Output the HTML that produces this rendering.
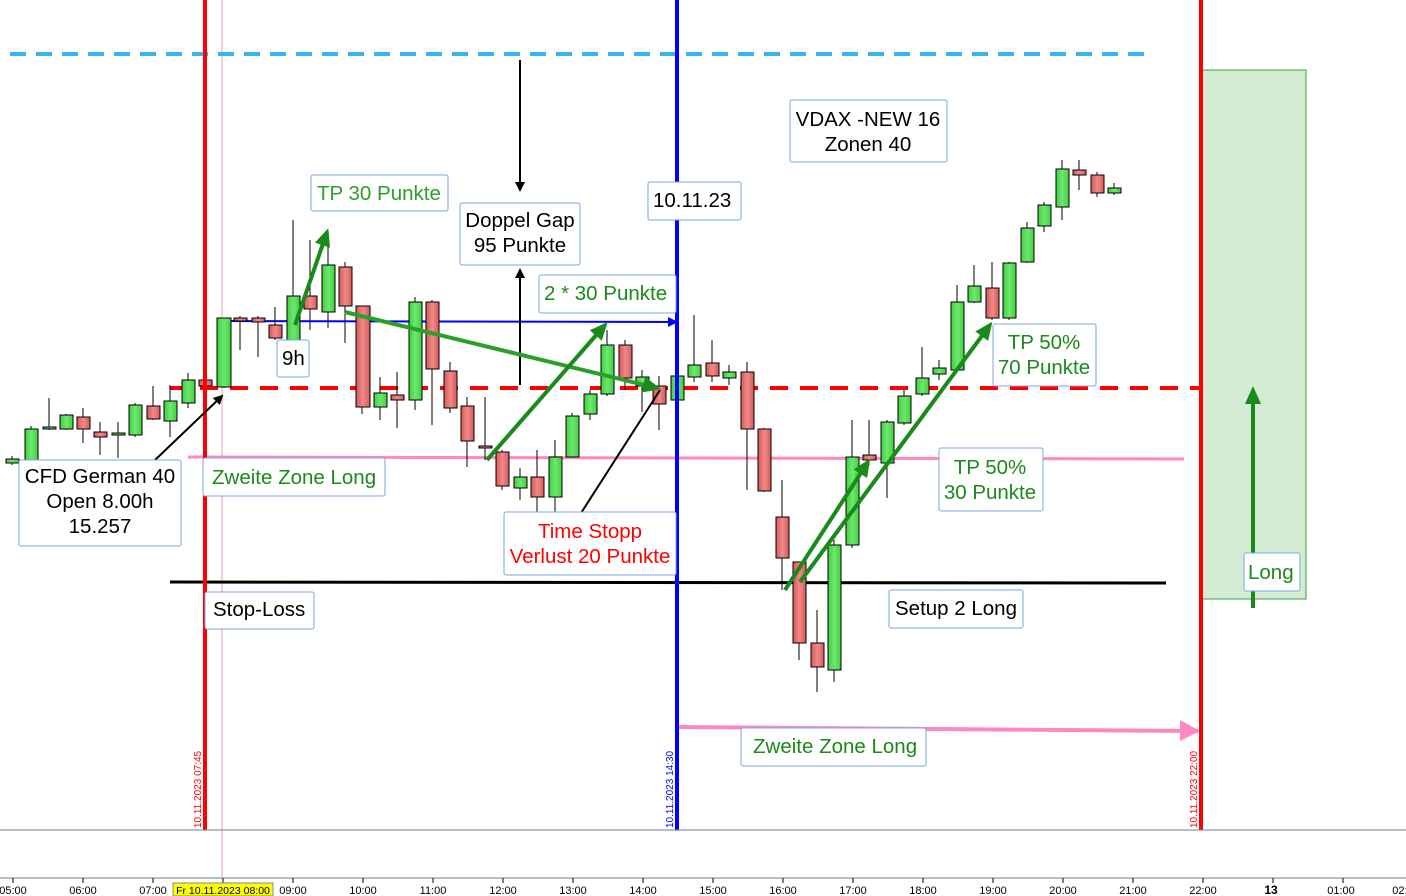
<!DOCTYPE html>
<html><head><meta charset="utf-8"><style>
body{margin:0;background:#fff}
svg{display:block;font-family:"Liberation Sans",sans-serif}
.lb{fill:#fff;stroke:#7aa7e8;stroke-width:1}
</style></head><body>
<svg width="1406" height="896" viewBox="0 0 1406 896">
<defs>
<linearGradient id="g" x1="0" x2="1"><stop offset="0" stop-color="#3fd03f"/><stop offset="0.5" stop-color="#6ee86e"/><stop offset="1" stop-color="#3fcf3f"/></linearGradient>
<linearGradient id="r" x1="0" x2="1"><stop offset="0" stop-color="#d85858"/><stop offset="0.5" stop-color="#f08a8a"/><stop offset="1" stop-color="#d85858"/></linearGradient>
<marker id="ab" markerWidth="10" markerHeight="10" refX="8" refY="5" orient="auto" markerUnits="userSpaceOnUse"><path d="M0,0 L10,5 L0,10z" fill="#000"/></marker>
<marker id="ag" markerWidth="18" markerHeight="16" refX="14" refY="8" orient="auto" markerUnits="userSpaceOnUse"><path d="M0,0 L18,8 L0,16z" fill="#1a8a1a"/></marker>
<marker id="abl" markerWidth="10" markerHeight="10" refX="8" refY="5" orient="auto" markerUnits="userSpaceOnUse"><path d="M0,0 L10,5 L0,10z" fill="#0000ff"/></marker>
</defs>
<rect x="1202" y="70" width="104" height="529" fill="#d4ecd4" stroke="#3aa03a"/>
<line x1="222" y1="0" x2="222" y2="878" stroke="#f0a0a0" stroke-width="1"/>
<line x1="10" y1="54" x2="1148" y2="54" stroke="#3ab4f0" stroke-width="4" stroke-dasharray="16,10"/>
<line x1="170" y1="388" x2="1200" y2="388" stroke="#f00" stroke-width="4" stroke-dasharray="18,12"/>
<line x1="188" y1="457" x2="1184" y2="459" stroke="#ff88c0" stroke-width="3"/>
<line x1="170" y1="582" x2="1166" y2="583" stroke="#000" stroke-width="3"/>
<line x1="222" y1="321" x2="676" y2="322" stroke="#0000ff" stroke-width="2" marker-end="url(#abl)"/>
<line x1="678" y1="727" x2="1198" y2="731" stroke="#ff88c0" stroke-width="4"/>
<path d="M1180,720 L1200,731 L1180,741z" fill="#ff88c0"/>
<g id="c" stroke="#000" stroke-width="1">
<line x1="12" y1="456" x2="12" y2="465"/><rect x="6" y="459" width="13" height="4" fill="url(#g)"/>
<line x1="31" y1="426" x2="31" y2="462"/><rect x="25" y="429" width="13" height="32" fill="url(#g)"/>
<line x1="49" y1="398" x2="49" y2="430"/><rect x="43" y="427" width="13" height="2" fill="url(#g)"/>
<line x1="66" y1="414" x2="66" y2="430"/><rect x="60" y="415" width="13" height="14" fill="url(#g)"/>
<line x1="83" y1="408" x2="83" y2="443"/><rect x="77" y="417" width="13" height="12" fill="url(#r)"/>
<line x1="100" y1="422" x2="100" y2="455"/><rect x="94" y="432" width="13" height="5" fill="url(#r)"/>
<line x1="118" y1="422" x2="118" y2="458"/><rect x="112" y="433" width="13" height="2" fill="url(#g)"/>
<line x1="135" y1="403" x2="135" y2="437"/><rect x="129" y="405" width="13" height="30" fill="url(#g)"/>
<line x1="153" y1="386" x2="153" y2="420"/><rect x="147" y="406" width="13" height="13" fill="url(#r)"/>
<line x1="170" y1="385" x2="170" y2="437"/><rect x="164" y="401" width="13" height="20" fill="url(#g)"/>
<line x1="188" y1="373" x2="188" y2="408"/><rect x="182" y="380" width="13" height="23" fill="url(#g)"/>
<line x1="205" y1="378" x2="205" y2="388"/><rect x="199" y="380" width="13" height="6" fill="url(#r)"/>
<line x1="224" y1="318" x2="224" y2="388"/><rect x="217" y="318" width="14" height="69" fill="url(#g)"/>
<line x1="240" y1="316" x2="240" y2="350"/><rect x="234" y="318" width="13" height="3" fill="url(#r)"/>
<line x1="258" y1="316" x2="258" y2="357"/><rect x="252" y="318" width="13" height="4" fill="url(#r)"/>
<line x1="275" y1="307" x2="275" y2="340"/><rect x="269" y="325" width="13" height="13" fill="url(#r)"/>
<line x1="293" y1="220" x2="293" y2="350"/><rect x="287" y="296" width="13" height="44" fill="url(#g)"/>
<line x1="310" y1="240" x2="310" y2="330"/><rect x="304" y="296" width="13" height="13" fill="url(#r)"/>
<line x1="328" y1="230" x2="328" y2="328"/><rect x="322" y="265" width="13" height="47" fill="url(#g)"/>
<line x1="345" y1="262" x2="345" y2="343"/><rect x="339" y="267" width="13" height="39" fill="url(#r)"/>
<line x1="362" y1="306" x2="362" y2="414"/><rect x="356" y="306" width="14" height="101" fill="url(#r)"/>
<line x1="380" y1="377" x2="380" y2="420"/><rect x="374" y="393" width="13" height="14" fill="url(#g)"/>
<line x1="397" y1="372" x2="397" y2="428"/><rect x="391" y="395" width="13" height="5" fill="url(#r)"/>
<line x1="415" y1="297" x2="415" y2="410"/><rect x="409" y="302" width="13" height="98" fill="url(#g)"/>
<line x1="432" y1="300" x2="432" y2="425"/><rect x="426" y="302" width="13" height="67" fill="url(#r)"/>
<line x1="450" y1="362" x2="450" y2="413"/><rect x="444" y="371" width="13" height="37" fill="url(#r)"/>
<line x1="467" y1="397" x2="467" y2="467"/><rect x="461" y="406" width="13" height="35" fill="url(#r)"/>
<line x1="485" y1="397" x2="485" y2="460"/><rect x="479" y="446" width="13" height="2" fill="url(#r)"/>
<line x1="502" y1="450" x2="502" y2="490"/><rect x="496" y="452" width="13" height="34" fill="url(#r)"/>
<line x1="520" y1="468" x2="520" y2="500"/><rect x="514" y="477" width="13" height="11" fill="url(#g)"/>
<line x1="537" y1="450" x2="537" y2="520"/><rect x="531" y="477" width="13" height="20" fill="url(#r)"/>
<line x1="555" y1="440" x2="555" y2="520"/><rect x="549" y="457" width="13" height="40" fill="url(#g)"/>
<line x1="572" y1="413" x2="572" y2="450"/><rect x="566" y="416" width="13" height="41" fill="url(#g)"/>
<line x1="590" y1="390" x2="590" y2="420"/><rect x="584" y="394" width="13" height="20" fill="url(#g)"/>
<line x1="607" y1="330" x2="607" y2="396"/><rect x="601" y="345" width="13" height="49" fill="url(#g)"/>
<line x1="625" y1="340" x2="625" y2="390"/><rect x="619" y="345" width="13" height="33" fill="url(#r)"/>
<line x1="642" y1="370" x2="642" y2="412"/><rect x="636" y="377" width="13" height="9" fill="url(#g)"/>
<line x1="659" y1="376" x2="659" y2="430"/><rect x="653" y="386" width="13" height="18" fill="url(#r)"/>
<line x1="677" y1="355" x2="677" y2="400"/><rect x="671" y="376" width="13" height="24" fill="url(#g)"/>
<line x1="694" y1="315" x2="694" y2="382"/><rect x="688" y="365" width="13" height="12" fill="url(#g)"/>
<line x1="712" y1="340" x2="712" y2="382"/><rect x="706" y="363" width="13" height="13" fill="url(#r)"/>
<line x1="729" y1="365" x2="729" y2="385"/><rect x="723" y="372" width="13" height="6" fill="url(#g)"/>
<line x1="747" y1="362" x2="747" y2="490"/><rect x="741" y="372" width="13" height="57" fill="url(#r)"/>
<line x1="764" y1="428" x2="764" y2="492"/><rect x="758" y="429" width="13" height="62" fill="url(#r)"/>
<line x1="782" y1="480" x2="782" y2="590"/><rect x="776" y="517" width="13" height="41" fill="url(#r)"/>
<line x1="799" y1="580" x2="799" y2="660"/><rect x="793" y="562" width="13" height="81" fill="url(#r)"/>
<line x1="817" y1="610" x2="817" y2="692"/><rect x="811" y="643" width="13" height="24" fill="url(#r)"/>
<line x1="834" y1="540" x2="834" y2="682"/><rect x="828" y="545" width="13" height="125" fill="url(#g)"/>
<line x1="852" y1="420" x2="852" y2="548"/><rect x="846" y="457" width="13" height="88" fill="url(#g)"/>
<line x1="869" y1="420" x2="869" y2="465"/><rect x="863" y="455" width="13" height="5" fill="url(#r)"/>
<line x1="887" y1="420" x2="887" y2="498"/><rect x="881" y="422" width="13" height="41" fill="url(#g)"/>
<line x1="904" y1="390" x2="904" y2="425"/><rect x="898" y="396" width="13" height="27" fill="url(#g)"/>
<line x1="922" y1="347" x2="922" y2="396"/><rect x="916" y="378" width="13" height="16" fill="url(#g)"/>
<line x1="939" y1="360" x2="939" y2="380"/><rect x="933" y="368" width="13" height="6" fill="url(#g)"/>
<line x1="957" y1="285" x2="957" y2="372"/><rect x="951" y="302" width="13" height="68" fill="url(#g)"/>
<line x1="974" y1="265" x2="974" y2="303"/><rect x="968" y="286" width="13" height="16" fill="url(#g)"/>
<line x1="992" y1="262" x2="992" y2="320"/><rect x="986" y="288" width="13" height="30" fill="url(#r)"/>
<line x1="1009" y1="262" x2="1009" y2="320"/><rect x="1003" y="263" width="13" height="55" fill="url(#g)"/>
<line x1="1027" y1="222" x2="1027" y2="263"/><rect x="1021" y="228" width="13" height="34" fill="url(#g)"/>
<line x1="1044" y1="202" x2="1044" y2="232"/><rect x="1038" y="205" width="13" height="21" fill="url(#g)"/>
<line x1="1062" y1="160" x2="1062" y2="220"/><rect x="1056" y="169" width="13" height="38" fill="url(#g)"/>
<line x1="1079" y1="160" x2="1079" y2="190"/><rect x="1073" y="170" width="13" height="5" fill="url(#r)"/>
<line x1="1097" y1="172" x2="1097" y2="197"/><rect x="1091" y="175" width="13" height="18" fill="url(#r)"/>
<line x1="1114" y1="183" x2="1114" y2="195"/><rect x="1108" y="188" width="13" height="5" fill="url(#g)"/>
</g>
<line x1="205" y1="0" x2="205" y2="830" stroke="#f00" stroke-width="4"/>
<line x1="677" y1="0" x2="677" y2="830" stroke="#0000ff" stroke-width="4"/>
<line x1="1201" y1="0" x2="1201" y2="830" stroke="#f00" stroke-width="4"/>
<g font-size="10">
<text transform="translate(201,828) rotate(-90)" fill="#f00">10.11.2023 07:45</text>
<text transform="translate(673,828) rotate(-90)" fill="#0000ff">10.11.2023 14:30</text>
<text transform="translate(1197,828) rotate(-90)" fill="#f00">10.11.2023 22:00</text>
</g>
<g stroke="#000" stroke-width="2" fill="none">
<line x1="155" y1="460" x2="222" y2="396" marker-end="url(#ab)"/>
<line x1="520" y1="60" x2="520" y2="190" marker-end="url(#ab)"/>
<line x1="520" y1="385" x2="520" y2="270" marker-end="url(#ab)"/>
<line x1="660" y1="390" x2="574" y2="524" marker-end="url(#ab)"/>
</g>
<g stroke="#1a8a1a" stroke-width="4" fill="none">
<line x1="295" y1="325" x2="327" y2="232" marker-end="url(#ag)"/>
<line x1="345" y1="312" x2="657" y2="388" marker-end="url(#ag)" stroke="#2aa02a"/>
<line x1="487" y1="460" x2="605" y2="325" marker-end="url(#ag)"/>
<line x1="785" y1="590" x2="868" y2="462" marker-end="url(#ag)"/>
<line x1="800" y1="582" x2="990" y2="325" marker-end="url(#ag)"/>
<line x1="1253" y1="608" x2="1253" y2="390" marker-end="url(#ag)"/>
</g>
<g font-size="20.5">
<rect class="lb" x="19" y="460" width="162" height="86" rx="2"/>
<text x="100" y="483" text-anchor="middle">CFD German 40</text>
<text x="100" y="508" text-anchor="middle">Open 8.00h</text>
<text x="100" y="533" text-anchor="middle">15.257</text>
<rect class="lb" x="203" y="458" width="182" height="38" rx="2"/>
<text x="212" y="484" fill="#1a8a1a">Zweite Zone Long</text>
<rect class="lb" x="205" y="592" width="109" height="37" rx="2"/>
<text x="213" y="616">Stop-Loss</text>
<rect class="lb" x="277" y="340" width="32" height="37" rx="2"/>
<text x="282" y="365">9h</text>
<rect class="lb" x="311" y="175" width="137" height="36" rx="2"/>
<text x="317" y="200" fill="#2aa02a">TP 30 Punkte</text>
<rect class="lb" x="460" y="203" width="120" height="62" rx="2"/>
<text x="520" y="227" text-anchor="middle">Doppel Gap</text>
<text x="520" y="252" text-anchor="middle">95 Punkte</text>
<rect class="lb" x="539" y="275" width="137" height="38" rx="2"/>
<text x="544" y="300" fill="#1a8a1a">2 * 30 Punkte</text>
<rect class="lb" x="648" y="182" width="93" height="38" rx="2"/>
<text x="653" y="207">10.11.23</text>
<rect class="lb" x="504" y="512" width="172" height="63" rx="2"/>
<text x="590" y="538" text-anchor="middle" fill="#f00">Time Stopp</text>
<text x="590" y="563" text-anchor="middle" fill="#f00">Verlust 20 Punkte</text>
<rect class="lb" x="790" y="100" width="157" height="62" rx="2"/>
<text x="868" y="126" text-anchor="middle">VDAX -NEW 16</text>
<text x="868" y="151" text-anchor="middle">Zonen 40</text>
<rect class="lb" x="993" y="324" width="103" height="62" rx="2"/>
<text x="1044" y="349" text-anchor="middle" fill="#1a8a1a">TP 50%</text>
<text x="1044" y="374" text-anchor="middle" fill="#1a8a1a">70 Punkte</text>
<rect class="lb" x="939" y="448" width="104" height="63" rx="2"/>
<text x="990" y="474" text-anchor="middle" fill="#1a8a1a">TP 50%</text>
<text x="990" y="499" text-anchor="middle" fill="#1a8a1a">30 Punkte</text>
<rect class="lb" x="889" y="590" width="134" height="38" rx="2"/>
<text x="895" y="615">Setup 2 Long</text>
<rect class="lb" x="741" y="728" width="185" height="38" rx="2"/>
<text x="753" y="753" fill="#1a8a1a">Zweite Zone Long</text>
<rect class="lb" x="1244" y="553" width="56" height="38" rx="2"/>
<text x="1248" y="579" fill="#1a8a1a">Long</text>
</g>
<line x1="0" y1="830" x2="1406" y2="830" stroke="#6a8090" stroke-width="1"/>
<line x1="0" y1="878" x2="1406" y2="878" stroke="#6a8090" stroke-width="1"/>
<g stroke="#000"><line x1="13" y1="878" x2="13" y2="883"/><line x1="83" y1="878" x2="83" y2="883"/><line x1="153" y1="878" x2="153" y2="883"/><line x1="223" y1="878" x2="223" y2="883"/><line x1="293" y1="878" x2="293" y2="883"/><line x1="363" y1="878" x2="363" y2="883"/><line x1="433" y1="878" x2="433" y2="883"/><line x1="503" y1="878" x2="503" y2="883"/><line x1="573" y1="878" x2="573" y2="883"/><line x1="643" y1="878" x2="643" y2="883"/><line x1="713" y1="878" x2="713" y2="883"/><line x1="783" y1="878" x2="783" y2="883"/><line x1="853" y1="878" x2="853" y2="883"/><line x1="923" y1="878" x2="923" y2="883"/><line x1="993" y1="878" x2="993" y2="883"/><line x1="1063" y1="878" x2="1063" y2="883"/><line x1="1133" y1="878" x2="1133" y2="883"/><line x1="1203" y1="878" x2="1203" y2="883"/><line x1="1273" y1="878" x2="1273" y2="883"/><line x1="1343" y1="878" x2="1343" y2="883"/></g>
<rect x="173" y="883" width="100" height="13" fill="#ffff00" stroke="#888"/>
<g font-size="11" text-anchor="middle">
<text x="13" y="894">05:00</text><text x="83" y="894">06:00</text><text x="153" y="894">07:00</text>
<text x="223" y="894" font-size="10.5">Fr 10.11.2023 08:00</text>
<text x="293" y="894">09:00</text><text x="363" y="894">10:00</text><text x="433" y="894">11:00</text><text x="503" y="894">12:00</text><text x="573" y="894">13:00</text><text x="643" y="894">14:00</text><text x="713" y="894">15:00</text><text x="783" y="894">16:00</text><text x="853" y="894">17:00</text><text x="923" y="894">18:00</text><text x="993" y="894">19:00</text><text x="1063" y="894">20:00</text><text x="1133" y="894">21:00</text><text x="1203" y="894">22:00</text>
<text x="1271" y="894" font-weight="bold" font-size="12">13</text><text x="1341" y="894">01:00</text><text x="1406" y="894">02:00</text>
</g>
</svg>
</body></html>
